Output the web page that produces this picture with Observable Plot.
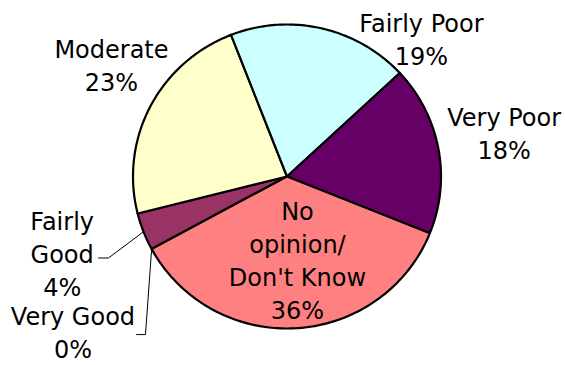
<!DOCTYPE html>
<html>
<head>
<meta charset="utf-8">
<script src="https://cdn.jsdelivr.net/npm/d3@7"></script>
<script src="https://cdn.jsdelivr.net/npm/@observablehq/plot@0.6"></script>
<style>
  html, body { margin: 0; padding: 0; background: #fff; }
  #chart { width: 565px; height: 365px; }
</style>
</head>
<body>
<div id="chart"></div>
<script>
// ---- data ----
const categories = ["Very Good", "Fairly Good", "Moderate", "Fairly Poor", "Very Poor", "No opinion/ Don't Know"];
const values = [0, 4, 23, 19, 18, 36];
const labelNames = ["Very Good", "Fairly\nGood", "Moderate", "Fairly Poor", "Very Poor", "No\nopinion/\nDon't Know"];
const colors = ["#9999FF", "#993366", "#FFFFCC", "#CCFFFF", "#660066", "#FF8080"];

// ---- layout (data units: pie radius = 1) ----
const startDeg = 241.5;
const labelX = [-1.39, -1.46, -1.14, 0.873, 1.41, 0.068];
const labelY = [-1.016, -0.5, 0.74, 0.912, 0.296, -0.54];
// leader lines: [category index, label-side x, elbow x, y]
const leaders = [
  {i: 1, x0: -1.224, x1: -1.159, y: -0.536},
  {i: 0, x0: -0.977, x1: -0.919, y: -1.04}
];

const arcs = d3.pie().sort(null).value(d => d.value)
  .startAngle(startDeg * Math.PI / 180)
  .endAngle(startDeg * Math.PI / 180 + 2 * Math.PI)(
    categories.map((c, i) => ({category: c, value: values[i]}))
  );

// slice polygons
const poly = [];
arcs.forEach(a => {
  const c = a.data.category;
  poly.push({category: c, x: 0, y: 0});
  const n = Math.max(1, Math.ceil((a.endAngle - a.startAngle) / (Math.PI / 180)));
  for (let k = 0; k <= n; k++) {
    const t = a.startAngle + (a.endAngle - a.startAngle) * k / n;
    poly.push({category: c, x: Math.sin(t), y: Math.cos(t)});
  }
});

const labels = categories.map((c, i) => ({
  text: labelNames[i] + "\n" + values[i] + "%",
  x: labelX[i], y: labelY[i]
}));

const leaderPts = [];
leaders.forEach((l, j) => {
  const a = arcs[l.i];
  const t = (a.startAngle + a.endAngle) / 2;
  leaderPts.push({id: j, x: l.x0, y: l.y});
  leaderPts.push({id: j, x: l.x1, y: l.y});
  leaderPts.push({id: j, x: Math.sin(t), y: Math.cos(t)});
});

const cx = 286.5, cy = 176, rx = 154, ry = 152;

const chart = Plot.plot({
  width: 565,
  height: 365,
  margin: 0,
  style: {background: "#fff", fontFamily: "'DejaVu Sans', sans-serif"},
  x: {domain: [-1, 1], range: [cx - rx, cx + rx], axis: null},
  y: {domain: [-1, 1], range: [cy + ry, cy - ry], axis: null},
  color: {type: "ordinal", domain: categories, range: colors},
  marks: [
    Plot.line(poly, {
      x: "x", y: "y", z: "category", fill: "category",
      stroke: "#000", strokeWidth: 2.2, curve: "linear-closed",
      strokeLinejoin: "round"
    }),
    Plot.line(leaderPts, {x: "x", y: "y", z: "id", stroke: "#000", strokeWidth: 1}),
    Plot.text(labels, {
      x: "x", y: "y", text: "text", fontSize: 24, lineHeight: 1.375,
      fill: "#000", textAnchor: "middle", lineAnchor: "middle"
    })
  ]
});
document.getElementById("chart").appendChild(chart);
</script>
</body>
</html>
